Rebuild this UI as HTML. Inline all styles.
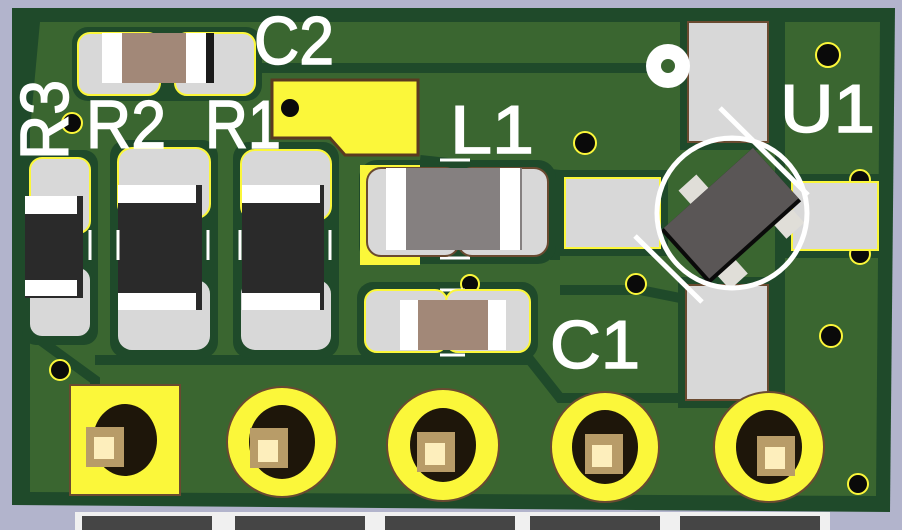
<!DOCTYPE html>
<html><head><meta charset="utf-8"><style>
html,body{margin:0;padding:0;background:#b2b4cc;}
svg{display:block}
text{font-family:"Liberation Sans",sans-serif;fill:#fff;stroke:#fff;stroke-width:1.5;}
</style></head><body>
<svg width="902" height="530" viewBox="0 0 902 530" xmlns="http://www.w3.org/2000/svg">
<rect width="902" height="530" fill="#b2b4cc"/>
<!-- board -->
<polygon points="12,8 895,8 890,512 12,505" fill="#1f4a2a"/>
<!-- copper pour (light) -->
<polygon points="40,22 880,22 876,496 30,492 30,130" fill="#3a6630"/>
<!-- dark clearance lines -->
<g stroke="#1f4a2a" stroke-width="10" fill="none">
<path d="M220,68 L680,68"/>
<path d="M780,22 L780,496"/>
<path d="M95,360 L180,360 L530,360 L560,398 L700,398"/>
<path d="M40,340 L95,380 L95,492"/>
<path d="M420,160 L560,175"/>
<path d="M560,290 L640,290 L690,300"/>
<path d="M555,260 L555,175"/>
</g>
<!-- clearances around pads -->
<g fill="#1f4a2a">
<rect x="72" y="27" width="190" height="74" rx="16"/>
<rect x="22" y="150" width="76" height="195" rx="14"/>
<rect x="110" y="140" width="108" height="218" rx="16"/>
<rect x="233" y="142" width="106" height="216" rx="16"/>
<rect x="359" y="160" width="197" height="104" rx="18"/>
<rect x="357" y="282" width="181" height="78" rx="16"/>
<rect x="680" y="14" width="96" height="136"/>
<rect x="557" y="170" width="111" height="86"/>
<rect x="784" y="174" width="102" height="84"/>
<rect x="678" y="277" width="98" height="131"/>
</g>
<!-- yellow copper -->
<path d="M272,80 L418,80 L418,155 L345,155 L330,138 L272,138 Z" fill="#fbf73a" stroke="#5a3a20" stroke-width="3"/>
<rect x="360" y="165" width="60" height="100" fill="#fbf73a"/>
<!-- vias -->
<g fill="#0a0a0a" stroke="#fbf73a" stroke-width="2">
<circle cx="290" cy="108" r="10"/><circle cx="72" cy="123" r="10"/><circle cx="585" cy="143" r="11"/>
<circle cx="860" cy="180" r="10"/><circle cx="860" cy="254" r="10"/><circle cx="831" cy="336" r="11"/>
<circle cx="858" cy="484" r="10"/><circle cx="60" cy="370" r="10"/><circle cx="636" cy="284" r="10"/>
<circle cx="470" cy="284" r="9"/><circle cx="828" cy="55" r="12"/>
</g>
<!-- C2 -->
<rect x="78" y="33" width="82" height="62" rx="12" fill="#d8d8d8" stroke="#fbf73a" stroke-width="2"/>
<rect x="175" y="33" width="80" height="62" rx="12" fill="#d8d8d8" stroke="#fbf73a" stroke-width="2"/>
<rect x="102" y="33" width="112" height="50" fill="#1a1a1a"/>
<rect x="102" y="33" width="20" height="50" fill="#fff"/>
<rect x="122" y="33" width="64" height="50" fill="#a28878"/>
<rect x="186" y="33" width="20" height="50" fill="#fff"/>
<!-- R3 -->
<rect x="30" y="158" width="60" height="75" rx="12" fill="#d8d8d8" stroke="#fbf73a" stroke-width="2"/>
<rect x="30" y="268" width="60" height="68" rx="12" fill="#d8d8d8"/>
<rect x="25" y="196" width="58" height="102" fill="#2a2a2a"/>
<rect x="25" y="196" width="52" height="18" fill="#fff"/>
<rect x="25" y="280" width="52" height="16" fill="#fff"/>
<!-- R2 -->
<rect x="118" y="148" width="92" height="70" rx="14" fill="#d8d8d8" stroke="#fbf73a" stroke-width="2"/>
<rect x="118" y="280" width="92" height="70" rx="14" fill="#d8d8d8"/>
<rect x="118" y="185" width="84" height="125" fill="#2a2a2a"/>
<rect x="118" y="185" width="78" height="18" fill="#fff"/>
<rect x="118" y="293" width="78" height="17" fill="#fff"/>
<!-- R1 -->
<rect x="241" y="150" width="90" height="70" rx="14" fill="#d8d8d8" stroke="#fbf73a" stroke-width="2"/>
<rect x="241" y="280" width="90" height="70" rx="14" fill="#d8d8d8"/>
<rect x="242" y="185" width="82" height="125" fill="#2a2a2a"/>
<rect x="242" y="185" width="78" height="18" fill="#fff"/>
<rect x="242" y="293" width="78" height="17" fill="#fff"/>
<!-- silk dashes -->
<g stroke="#fff" stroke-width="3">
<line x1="90" y1="230" x2="90" y2="260"/><line x1="118" y1="230" x2="118" y2="260"/>
<line x1="208" y1="230" x2="208" y2="260"/><line x1="240" y1="230" x2="240" y2="260"/>
<line x1="330" y1="230" x2="330" y2="260"/>
<line x1="440" y1="258" x2="470" y2="258"/><line x1="440" y1="160" x2="470" y2="160"/>
<line x1="440" y1="290" x2="465" y2="290"/><line x1="440" y1="355" x2="465" y2="355"/>
</g>
<!-- L1 -->
<rect x="367" y="168" width="92" height="88" rx="14" fill="#d8d8d8" stroke="#6a4a30" stroke-width="2"/>
<rect x="458" y="168" width="90" height="88" rx="14" fill="#d8d8d8" stroke="#6a4a30" stroke-width="2"/>
<rect x="386" y="168" width="136" height="82" fill="#858080"/>
<rect x="386" y="168" width="20" height="82" fill="#fff"/>
<rect x="500" y="168" width="20" height="82" fill="#fff"/>
<!-- C1 -->
<rect x="365" y="290" width="82" height="62" rx="12" fill="#d8d8d8" stroke="#fbf73a" stroke-width="2"/>
<rect x="446" y="290" width="84" height="62" rx="12" fill="#d8d8d8" stroke="#fbf73a" stroke-width="2"/>
<rect x="400" y="300" width="106" height="50" fill="#a28878"/>
<rect x="400" y="300" width="18" height="50" fill="#fff"/>
<rect x="488" y="300" width="18" height="50" fill="#fff"/>
<!-- U1 pads -->
<rect x="688" y="22" width="80" height="120" fill="#d8d8d8" stroke="#6a4a30" stroke-width="2"/>
<rect x="565" y="178" width="95" height="70" fill="#d8d8d8" stroke="#fbf73a" stroke-width="2"/>
<rect x="792" y="182" width="86" height="68" fill="#d8d8d8" stroke="#fbf73a" stroke-width="2"/>
<rect x="686" y="285" width="82" height="115" fill="#d8d8d8" stroke="#6a4a30" stroke-width="2"/>
<!-- mounting ring -->
<circle cx="668" cy="66" r="22" fill="#fff"/><circle cx="668" cy="66" r="7" fill="#3a6630"/>
<!-- U1 chip -->
<g transform="translate(731,216) rotate(-42)">
<rect x="-22" y="-54" width="24" height="22" fill="#e0ded8"/>
<rect x="-50" y="32" width="24" height="22" fill="#e0ded8"/>
<rect x="26" y="32" width="24" height="22" fill="#e0ded8"/>
<rect x="-62" y="-36" width="124" height="72" fill="#0a0a0a"/>
<rect x="-58" y="-36" width="120" height="68" fill="#5a5656"/>
</g>
<!-- U1 silk circle -->
<circle cx="732" cy="213" r="75" fill="none" stroke="#fff" stroke-width="5"/>
<line x1="635" y1="236" x2="702" y2="302" stroke="#fff" stroke-width="5"/>
<line x1="720" y1="108" x2="808" y2="195" stroke="#fff" stroke-width="5"/>
<!-- through-hole pads -->
<rect x="70" y="385" width="110" height="110" fill="#fbf73a" stroke="#6a4a30" stroke-width="2"/>
<g fill="#fbf73a" stroke="#6a4a30" stroke-width="2">
<ellipse cx="282" cy="442" rx="55" ry="55"/><ellipse cx="443" cy="445" rx="56" ry="56"/>
<ellipse cx="605" cy="447" rx="54" ry="55"/><ellipse cx="769" cy="447" rx="55" ry="55"/>
</g>
<g fill="#1e160a">
<ellipse cx="125" cy="440" rx="32" ry="36"/><ellipse cx="282" cy="442" rx="33" ry="37"/>
<ellipse cx="443" cy="445" rx="33" ry="37"/><ellipse cx="605" cy="447" rx="33" ry="37"/>
<ellipse cx="769" cy="447" rx="33" ry="37"/>
</g>
<g fill="#b89c68">
<rect x="86" y="427" width="38" height="40"/><rect x="250" y="428" width="38" height="40"/>
<rect x="417" y="432" width="38" height="40"/><rect x="585" y="434" width="38" height="40"/>
<rect x="757" y="436" width="38" height="40"/>
</g>
<g fill="#fdeebc">
<rect x="94" y="437" width="20" height="22"/><rect x="258" y="440" width="20" height="22"/>
<rect x="425" y="443" width="20" height="22"/><rect x="592" y="445" width="20" height="22"/>
<rect x="765" y="447" width="20" height="22"/>
</g>
<!-- bottom connector -->
<rect x="75" y="512" width="755" height="18" fill="#f0f0f0"/>
<g fill="#454545">
<rect x="82" y="516" width="130" height="14"/><rect x="235" y="516" width="130" height="14"/>
<rect x="385" y="516" width="130" height="14"/><rect x="530" y="516" width="130" height="14"/>
<rect x="680" y="516" width="140" height="14"/>
</g>
<!-- labels -->
<g font-size="68">
<text x="254" y="64" textLength="80" lengthAdjust="spacingAndGlyphs">C2</text>
<text x="86" y="148" textLength="80" lengthAdjust="spacingAndGlyphs">R2</text>
<text x="205" y="148" textLength="76" lengthAdjust="spacingAndGlyphs">R1</text>
<text x="450" y="153" textLength="84" lengthAdjust="spacingAndGlyphs">L1</text>
<text x="780" y="132" textLength="95" lengthAdjust="spacingAndGlyphs">U1</text>
<text x="550" y="368" textLength="90" lengthAdjust="spacingAndGlyphs">C1</text>
<text transform="translate(68,160) rotate(-90)" textLength="80" lengthAdjust="spacingAndGlyphs">R3</text>
</g>
</svg>
</body></html>
